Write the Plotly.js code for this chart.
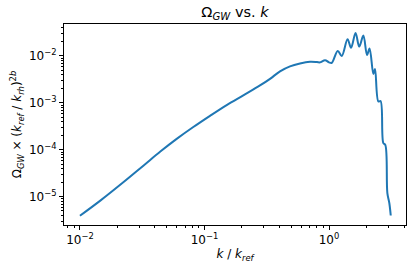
<!DOCTYPE html>
<html>
<head>
<meta charset="utf-8">
<script src="https://cdn.plot.ly/plotly-3.0.1.min.js"></script>
<style>html,body{margin:0;padding:0;background:#fff;}#chart{width:416px;height:268px;}</style>
</head>
<body>
<div id="chart"></div>
<script>
// k / k_ref
const kValues = [0.01, 0.01466, 0.02254, 0.03266, 0.04446, 0.0598, 0.0813, 0.1107, 0.1507, 0.205, 0.279, 0.336, 0.404, 0.486, 0.585, 0.703, 0.80, 0.847, 0.929, 1.0, 1.051, 1.175, 1.265, 1.408, 1.502, 1.633, 1.748, 1.886, 2.018, 2.115, 2.27, 2.34, 2.49, 2.593, 2.73, 2.83, 2.94, 3.05, 3.13];
// Omega_GW x (k_ref/k_rh)^2b
const omegaValues = [3.95e-6, 8.4e-6, 2.09e-5, 4.72e-5, 9.3e-5, 1.71e-4, 3.06e-4, 5.31e-4, 9.0e-4, 1.45e-3, 2.35e-3, 3.25e-3, 4.7e-3, 6.0e-3, 6.9e-3, 7.5e-3, 7.4e-3, 7.3e-3, 8.1e-3, 7.3e-3, 7.1e-3, 1.28e-2, 1.0e-2, 2.28e-2, 1.49e-2, 3.08e-2, 1.58e-2, 2.73e-2, 1.05e-2, 1.44e-2, 4.14e-3, 5.28e-3, 1.07e-3, 1.10e-3, 1.39e-4, 1.28e-4, 1.2e-5, 7.3e-6, 4.0e-6];
const xTickVals = [0.01, 0.1, 1];
const xTickText = ['10<sup>\u22122</sup>', '10<sup>\u22121</sup>', '10<sup>0</sup>'];
const yTickVals = [1e-5, 1e-4, 1e-3, 1e-2];
const yTickText = ['10<sup>\u22125</sup>', '10<sup>\u22124</sup>', '10<sup>\u22123</sup>', '10<sup>\u22122</sup>'];

function minorTicks(lo, hi) {
  const out = [];
  for (let e = lo; e <= hi; e++) for (let m = 2; m <= 9; m++) out.push(m * Math.pow(10, e));
  return out;
}

const font = {family: 'DejaVu Sans, sans-serif', size: 12, color: '#000'};
const axisCommon = {
  type: 'log', showgrid: false, zeroline: false, showline: true, linecolor: '#000', linewidth: 1,
  mirror: true, ticks: 'outside', ticklen: 4, tickwidth: 1, tickcolor: '#000', tickmode: 'array',
  tickfont: font
};

const trace = {x: kValues, y: omegaValues, mode: 'lines', type: 'scatter',
  line: {color: '#1f77b4', width: 2, shape: 'spline', smoothing: 1}, hoverinfo: 'skip'};

const layout = {
  width: 416, height: 268,
  margin: {l: 64, r: 10, t: 24, b: 43},
  paper_bgcolor: '#fff', plot_bgcolor: '#fff',
  font: font, showlegend: false,
  title: {text: '\u03a9<sub><i>GW</i></sub> vs. <i>k</i>', font: {family: 'DejaVu Sans, sans-serif', size: 14.5, color: '#000'},
    xref: 'paper', x: 0.5, xanchor: 'center', yref: 'container', y: 1 - 12 / 268, yanchor: 'middle'},
  xaxis: Object.assign({}, axisCommon, {
    range: [-2.128, 0.618], tickvals: xTickVals, ticktext: xTickText,
    minor: {tickvals: minorTicks(-3, 0), ticks: 'outside', ticklen: 2, tickcolor: '#000', showgrid: false},
    title: {text: '<i>k</i> / <i>k</i><sub><i>ref</i></sub>', font: font, standoff: 2}
  }),
  yaxis: Object.assign({}, axisCommon, {
    range: [-5.60, -1.32], tickvals: yTickVals, ticktext: yTickText,
    minor: {tickvals: minorTicks(-6, -2), ticks: 'outside', ticklen: 2, tickcolor: '#000', showgrid: false},
    title: {text: '\u03a9<sub><i>GW</i></sub> \u00d7 (<i>k</i><sub><i>ref</i></sub> / <i>k</i><sub><i>rh</i></sub>)<sup>2<i>b</i></sup>', font: font, standoff: 4}
  })
};

Plotly.newPlot('chart', [trace], layout, {staticPlot: true, displayModeBar: false});
</script>
</body>
</html>
